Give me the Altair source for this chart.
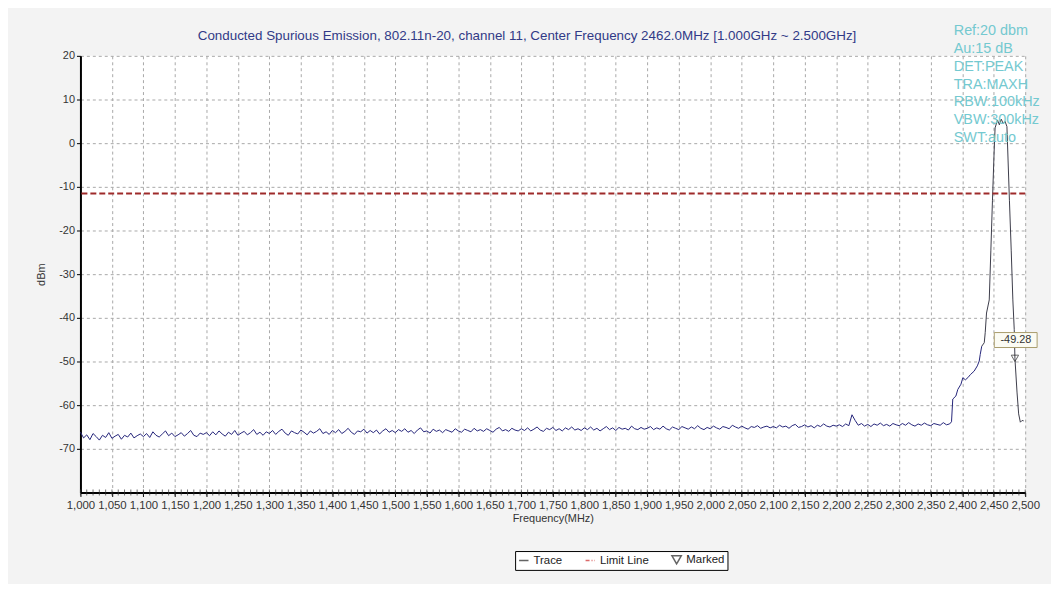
import altair as alt
import pandas as pd

# ---------------- data ----------------
noise_start = 1000
noise_step = 5
noise_dbm = [
    -66.2, -67.5, -66.8, -67.9, -66.5, -67.2, -68.0, -66.9, -67.4, -66.3, -67.6, -67.1, -66.7, -67.8, -66.9, -67.3, -66.4, -67.5, -67.0, -66.6,
    -67.2, -66.5, -67.4, -66.1, -66.9, -67.3, -66.6, -65.9, -67.0, -66.4, -67.2, -66.8, -66.3, -67.1, -66.5, -65.8, -66.9, -67.2, -66.4, -66.7,
    -66.3, -67.0, -66.1, -66.8, -65.9, -66.6, -67.1, -66.2, -66.7, -65.8, -66.9, -66.4, -66.0, -66.8, -66.3, -65.6, -66.7, -66.2, -66.9, -66.1,
    -66.5, -65.8, -66.7, -66.0, -65.5, -66.4, -66.9, -65.9, -66.3, -66.6, -65.7, -66.2, -66.8, -65.9, -66.4, -66.0, -65.4, -66.5, -66.1, -66.7,
    -65.8, -66.3, -65.6, -66.5, -66.0, -65.3, -66.2, -66.7, -65.9, -66.1, -65.5, -66.4, -65.8, -66.3, -65.7, -66.6, -65.9, -65.4, -66.2, -65.8,
    -66.3, -65.6, -66.0, -65.4, -66.2, -65.8, -66.5, -65.7, -65.2, -66.1, -65.9, -66.4, -65.5, -66.0, -65.7, -66.3, -65.6, -65.9, -66.2, -65.4,
    -65.9, -66.2, -65.5, -65.8, -66.1, -65.3, -65.9, -65.6, -66.0, -65.4, -65.8, -66.2, -65.5, -65.1, -65.9, -65.6, -66.0, -65.3, -65.7, -65.9,
    -65.4, -65.8, -65.2, -65.9, -65.5, -65.0, -65.7, -66.0, -65.3, -65.6, -65.1, -65.8, -65.4, -65.9, -65.2, -65.6, -65.0, -65.7, -65.4, -65.8,
    -65.2, -65.6, -65.0, -65.7, -65.3, -65.9, -65.4, -64.9, -65.6, -65.2, -65.8, -65.1, -65.5, -65.3, -65.7, -64.8, -65.4, -65.6, -65.1, -65.5,
    -65.3, -64.9, -65.6, -65.2, -65.5, -64.8, -65.4, -65.7, -65.0, -65.3, -65.6, -64.9, -65.2, -65.5, -65.0, -65.4, -64.7, -65.3, -65.6, -65.1,
    -65.4, -64.8, -65.2, -65.5, -64.9, -65.1, -65.4, -64.6, -65.0, -65.3, -64.8, -65.2, -65.5, -64.9, -65.1, -64.7, -65.3, -65.0, -64.8, -65.2,
    -64.9, -65.2, -64.6, -65.0, -64.8, -65.3, -64.7, -64.4, -65.1, -64.9, -64.5, -65.0, -64.7, -65.2, -64.6, -64.9, -64.3, -64.8, -65.0, -64.6,
    -64.8, -64.5, -64.9, -64.3, -64.7, -62.2, -63.5, -64.6, -64.2, -64.8, -64.4, -64.9, -64.3, -64.6, -64.1, -64.7, -64.4, -64.8, -64.2, -64.5,
    -64.7, -64.2, -64.6, -64.0, -64.5, -64.8, -64.3, -64.6, -64.1, -64.5, -64.7, -64.2, -64.4, -64.6, -64.0, -64.5, -64.3,
]

skirt_mhz = [2383, 2385, 2390, 2393, 2398, 2401, 2405, 2409, 2413, 2419, 2424, 2427, 2428.6, 2431]
skirt_dbm = [-63.8, -58.6, -57.9, -56.4, -55.2, -53.7, -54.2, -53.7, -53.0, -52.2, -51.0, -49.9, -48.4, -46.5]

peak_mhz = [2431, 2435, 2436.5, 2438.6, 2442.9, 2445.5, 2448, 2450.7, 2452.2, 2456, 2459, 2462, 2465, 2468, 2471,
            2475, 2477.8, 2480.4, 2482.6, 2483.7, 2487, 2489.6, 2492.3, 2495, 2497.6]
peak_dbm = [-46.5, -45.7, -43.4, -38.9, -35.9, -24.5, -13.2, -1.8, 3.5, 5.3, 4.2, 5.5, 4.5, 5.0, 3.8,
            -13.2, -24.5, -35.9, -42.7, -49.28, -57.0, -62.0, -63.9, -63.5, -63.6]

limit_dbm = -11.5
marker_mhz = 2483.7
marker_dbm = -49.28

info_lines = ["Ref:20 dbm", "Au:15 dB", "DET:PEAK", "TRA:MAXH", "RBW:100kHz", "VBW:300kHz", "SWT:auto"]
legend_names = ["Trace", "Limit Line", "Marked"]
x_ticks = list(range(1000, 2501, 50))
x_minor_ticks = list(range(1000, 2501, 10))
y_ticks = list(range(-70, 21, 10))

title_text = "Conducted Spurious Emission, 802.11n-20, channel 11, Center Frequency 2462.0MHz  [1.000GHz ~ 2.500GHz]"

# ---------------- frames ----------------
noise_mhz = [noise_start + i * noise_step for i in range(len(noise_dbm))]
blue_df = pd.DataFrame({"f": noise_mhz + skirt_mhz, "v": noise_dbm + skirt_dbm})
gray_df = pd.DataFrame({"f": peak_mhz, "v": peak_dbm})
marker_df = pd.DataFrame({"f": [marker_mhz], "v": [marker_dbm], "label": [f"{marker_dbm:.2f}"]})
limit_df = pd.DataFrame({"v": [limit_dbm]})
legend_df = pd.DataFrame({"series": legend_names, "f": [1500] * 3, "v": [40] * 3})
minor_df = pd.DataFrame({"f": x_minor_ticks})

FONT = "Liberation Sans"
xs = alt.Scale(domain=[1000, 2500], nice=False, zero=False)
ys = alt.Scale(domain=[-80, 20], nice=False, zero=False)

x_axis = alt.Axis(values=x_ticks, format=",d", title="Frequency(MHz)", labelOverlap=False, labelFlush=False,
                  labelBound=False, labelSeparation=0, labelPadding=3, titlePadding=2, labelFontSize=11.5)
y_axis = alt.Axis(values=y_ticks, title="dBm", labelPadding=2, titlePadding=12, labelExpr="'' + datum.value")

X = alt.X("f:Q", scale=xs, axis=x_axis)
Y = alt.Y("v:Q", scale=ys, axis=y_axis)

blue = alt.Chart(blue_df).mark_line(color="#25257a", strokeWidth=1, interpolate="linear").encode(x=X, y=Y)
gray = alt.Chart(gray_df).mark_line(color="#3c3c4a", strokeWidth=1).encode(x=X, y=Y)

minor = alt.Chart(minor_df).mark_tick(color="#333333", thickness=1, size=6, orient="vertical").encode(
    x=X, y=alt.value(440))

limit = alt.Chart(limit_df).mark_rule(color="#9e2a2a", strokeWidth=2, strokeDash=[6, 3]).encode(y=Y)

marker = alt.Chart(marker_df).mark_point(shape="triangle-down", filled=False, color="#222222", size=55, strokeWidth=1).encode(
    x=X, y=Y)
box = alt.Chart(marker_df).mark_point(
    shape="M-0.80,-1.0 L0.86,-1.0 L0.86,-0.42 L-0.80,-0.42 Z", size=2704, filled=True,
    fill="#fbfbf3", stroke="#a89c6c", strokeWidth=1, opacity=1).encode(x=X, y=Y)
box_text = alt.Chart(marker_df).mark_text(font=FONT, fontSize=11, color="#333333", dx=1, dy=-18).encode(
    x=X, y=Y, text="label:N")

info = alt.Chart(pd.DataFrame({"t": [0]})).mark_text(
    font=FONT, fontSize=14.5, color="#74c9d0", align="left", baseline="top", lineHeight=18).encode(
    x=alt.value(880), y=alt.value(-32), text=alt.value(info_lines))

title = alt.Chart(pd.DataFrame({"t": [0]})).mark_text(
    font=FONT, fontSize=13.5, color="#313a87", align="center", baseline="middle").encode(
    x=alt.value(450), y=alt.value(-20), text=alt.value(title_text))

legend_layer = alt.Chart(legend_df).mark_point(filled=False, clip=True, strokeWidth=1.5).encode(
    x=X, y=Y,
    color=alt.Color("series:N", scale=alt.Scale(domain=legend_names, range=["#222222", "#cc2b2b", "#222222"]),
                    legend=alt.Legend(title=None, orient="none", legendX=438, legendY=499, direction="horizontal",
                                      columns=3, fillColor="white", strokeColor="black", padding=3,
                                      labelFontSize=11.5, labelFont=FONT, labelColor="#222222",
                                      symbolSize=90, columnPadding=20, symbolStrokeWidth=1.5, labelOffset=4)),
    shape=alt.Shape("series:N", scale=alt.Scale(domain=legend_names, range=["stroke", "stroke", "triangle-down"])),
    strokeDash=alt.StrokeDash("series:N", scale=alt.Scale(domain=legend_names, range=[[1, 0], [4, 2, 1, 2], [1, 0]])),
)

chart = alt.layer(blue, gray, minor, limit, marker, box, box_text, info, title, legend_layer).properties(
    width=952, height=440,
    autosize=alt.AutoSizeParams(type="none"),
    padding={"left": 73, "top": 46, "right": 26, "bottom": 90},
    background="#f3f3f3",
).configure_view(fill="white", stroke=None).configure_axis(
    labelFont=FONT, titleFont=FONT, labelFontSize=11, titleFontSize=11, titleFontWeight="normal",
    labelColor="#333333", titleColor="#333333", grid=True, gridDash=[3, 3], gridColor="#a8a8a8",
    domainColor="black", domainWidth=2, tickColor="black", tickSize=4,
).configure_axisX(labelOverlap=False)

chart.save("out.html", embed_options={"renderer": "svg", "actions": False})
